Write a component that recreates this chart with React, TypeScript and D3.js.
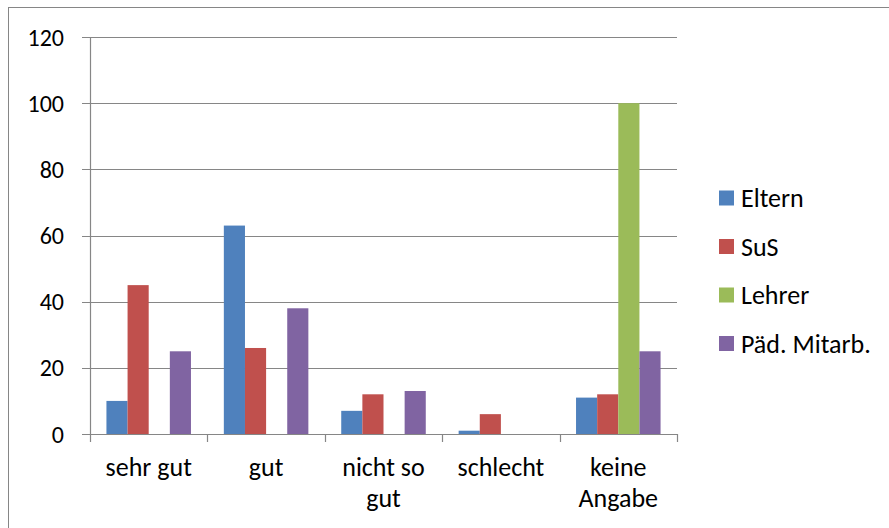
import React from "react";
import * as d3 from "d3";

const categories = ["sehr gut", "gut", "nicht so gut", "schlecht", "keine Angabe"];
const categoryLines = [["sehr gut"], ["gut"], ["nicht so", "gut"], ["schlecht"], ["keine", "Angabe"]];
const seriesNames = ["Eltern", "SuS", "Lehrer", "Päd. Mitarb."];
const eltern = [10, 63, 7, 1, 11];
const sus = [45, 26, 12, 6, 12];
const lehrer = [0, 0, 0, 0, 100];
const paed = [25, 38, 13, 0, 25];
const yTicks = [0, 20, 40, 60, 80, 100, 120];
const colors = ["#4F81BD", "#C0504D", "#9BBB59", "#8064A2"];

export default function App() {
  const W = 889, H = 528;
  const left = 90, right = 677, top = 37, bottom = 434;
  const series = [eltern, sus, lehrer, paed];
  const x = d3.scaleBand().domain(categories).range([left, right]).paddingInner(0.28).paddingOuter(0.14);
  const x0 = d3.scaleBand().domain(categories).range([left, right]);
  const xs = d3.scaleBand().domain(seriesNames).range([0, x.bandwidth()]);
  const y = d3.scaleLinear().domain([0, 120]).range([bottom, top]);
  const font = "Carlito, Calibri, Lato, 'Open Sans', sans-serif";
  const grid = "#868686";
  return (
    <svg width={W} height={H} style={{ position: "absolute", left: 0, top: 0, background: "#fff" }} fontFamily={font}>
      <rect x={8.5} y={7.5} width={W + 10} height={H + 10} fill="#fff" stroke="#868686" strokeWidth={1} />
      {yTicks.map((t) => (
        <g key={t}>
          <line x1={left - 8} x2={right} y1={Math.round(y(t)) + 0.5} y2={Math.round(y(t)) + 0.5} stroke={grid} strokeWidth={1.2} />
          <text x={64} y={y(t)} dy="0.36em" textAnchor="end" fontSize={24} fill="#000">{t}</text>
        </g>
      ))}
      <line x1={left + 0.5} x2={left + 0.5} y1={top} y2={bottom + 8} stroke={grid} strokeWidth={1.2} />
      {categories.map((c) => (
        <line key={c} x1={Math.round(x0(c)! + x0.bandwidth()) + 0.5} x2={Math.round(x0(c)! + x0.bandwidth()) + 0.5} y1={bottom} y2={bottom + 8} stroke={grid} strokeWidth={1.2} />
      ))}
      {categories.map((c, i) => (
        <g key={c}>
          {series.map((s, j) => (
            s[i] > 0 ? (
              <rect key={j} x={x(c)! + xs(seriesNames[j])!} y={y(s[i])} width={xs.bandwidth()} height={bottom - y(s[i])} fill={colors[j]} />
            ) : null
          ))}
          {categoryLines[i].map((ln, k) => (
            <text key={k} x={x0(c)! + x0.bandwidth() / 2} y={476 + k * 31} textAnchor="middle" fontSize={26} fill="#000">{ln}</text>
          ))}
        </g>
      ))}
      {seriesNames.map((n, j) => (
        <g key={n} transform={`translate(719, ${198 + j * 48.5})`}>
          <rect x={0} y={-7.5} width={15} height={15} fill={colors[j]} />
          <text x={22} y={0} dy="0.36em" fontSize={26} fill="#000">{n}</text>
        </g>
      ))}
    </svg>
  );
}
